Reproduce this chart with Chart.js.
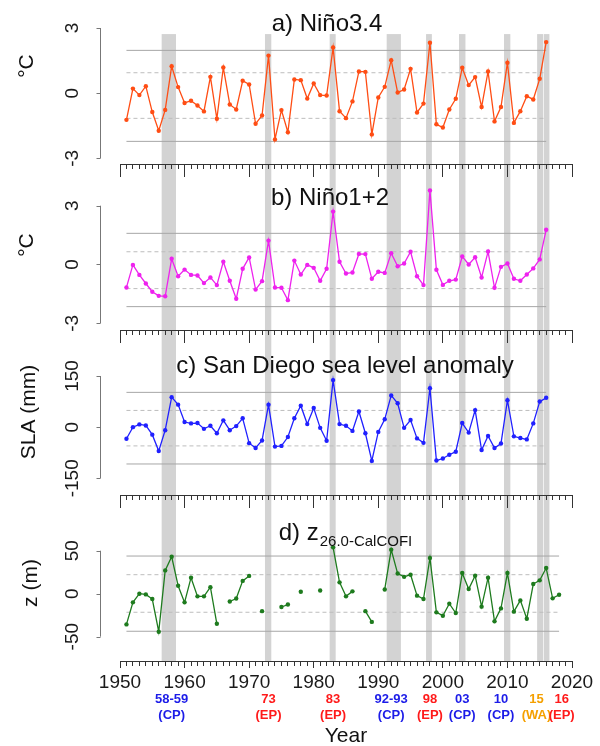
<!DOCTYPE html>
<html>
<head>
<meta charset="utf-8">
<script src="https://cdn.jsdelivr.net/npm/chart.js@4.4.1/dist/chart.umd.min.js"></script>
<style>
    html, body { margin: 0; padding: 0; background: #fff; }
    #wrap { width: 600px; height: 746px; }
</style>
</head>
<body>
<div id="wrap"><canvas id="grafico" width="600" height="746"></canvas></div>
<script>
// anos (o painel d vai ate 2018, os outros ate 2016)
const years = [1951, 1952, 1953, 1954, 1955, 1956, 1957, 1958, 1959, 1960,
    1961, 1962, 1963, 1964, 1965, 1966, 1967, 1968, 1969, 1970,
    1971, 1972, 1973, 1974, 1975, 1976, 1977, 1978, 1979, 1980,
    1981, 1982, 1983, 1984, 1985, 1986, 1987, 1988, 1989, 1990,
    1991, 1992, 1993, 1994, 1995, 1996, 1997, 1998, 1999, 2000,
    2001, 2002, 2003, 2004, 2005, 2006, 2007, 2008, 2009, 2010,
    2011, 2012, 2013, 2014, 2015, 2016, 2017, 2018];

const nino34 = [-1.23, 0.21, -0.09, 0.32, -0.87, -1.73, -0.77, 1.24, 0.28, -0.45,
    -0.35, -0.57, -0.84, 0.75, -1.18, 1.18, -0.52, -0.75, 0.57, 0.40,
    -1.41, -1.03, 1.73, -2.13, -0.78, -1.80, 0.63, 0.60, -0.25, 0.45,
    -0.09, -0.11, 2.10, -0.83, -1.15, -0.38, 1.00, 0.98, -1.90, -0.20,
    0.29, 1.52, 0.03, 0.17, 1.12, -0.89, -0.48, 2.32, -1.43, -1.58,
    -0.75, -0.26, 1.17, 0.37, 0.74, -0.64, 1.00, -1.30, -0.64, 1.40,
    -1.37, -0.83, -0.14, -0.29, 0.66, 2.35];

const nino12 = [-1.17, -0.02, -0.53, -0.97, -1.39, -1.60, -1.62, 0.29, -0.60, -0.26,
    -0.53, -0.56, -0.95, -0.66, -1.05, 0.14, -0.83, -1.75, -0.22, 0.36,
    -1.28, -0.85, 1.22, -1.17, -1.19, -1.82, 0.20, -0.51, -0.02, -0.17,
    -0.83, -0.22, 2.70, 0.14, -0.46, -0.41, 0.54, 0.53, -0.73, -0.37,
    -0.43, 0.58, -0.09, 0.05, 0.65, -0.60, -1.05, 3.78, -0.27, -1.04,
    -0.83, -0.77, 0.41, 0.00, 0.37, -0.66, 0.66, -1.19, -0.12, 0.05,
    -0.73, -0.83, -0.51, -0.20, 0.26, 1.77];

const slaSanDiego = [-34, 0, 8, 5, -22, -70, -9, 88, 66, 15,
    11, 12, -5, 4, -18, 20, -9, 3, 26, -47,
    -61, -39, 66, -57, -55, -29, 26, 63, 9, 56,
    -2, -40, 138, 9, 4, -11, 46, -18, -99, -14,
    23, 93, 70, -2, 21, -33, -46, 114, -98, -92,
    -81, -72, 12, -16, 50, -67, -26, -61, -48, 79,
    -27, -32, -36, 11, 75, 86];

const z26 = [-35.7, -10.1, 0, -0.8, -6.2, -44.2, 27.1, 43.0, 9.3, -10.1,
    18.6, -3.1, -3.1, 7.6, -35.0, null, -9.1, -5.6, 14.9, 20.7,
    null, -20.3, null, null, -15.5, -12.6, null, 2.3, null, null,
    3.7, null, 53.9, 13.2, -3.1, 2.7, null, -20.3, -32.8, null,
    4.9, 51.2, 23.4, 19.6, 22.1, -2.3, -6.2, 41.5, -21.7, -25.6,
    -11.6, -22.5, 24.0, 5.4, 20.9, -15.1, 18.6, -32.2, -17.1, 24.0,
    -20.9, -7.8, -29.1, 11.2, 15.5, 29.8, -5.4, -1.2];

// linhas de referencia (media +-1 e +-2 desvios)
const refNino34 = [1.97, 0.94, -1.16, -2.22];
const refNino12 = [1.59, 0.65, -1.23, -2.15];
const refSla = [102, 49, -55, -108];
const refZ = [43.8, 22.1, -21.6, -43.7];
const refTipo = ["solid", "dashed", "dashed", "solid"];

// ticks do eixo y
const ticksNino = [-3, 0, 3];
const ticksSla = [-150, 0, 150];
const ticksZ = [-50, 0, 50];

// eventos El Nino (faixas cinzas e rotulos)
const faixaInicio = [1956.45, 1972.45, 1982.47, 1991.3, 1997.4, 2002.5, 2009.47, 2014.6, 2015.62];
const faixaFim = [1958.67, 1973.43, 1983.4, 1993.5, 1998.3, 2003.5, 2010.45, 2015.52, 2016.5];
const eventoPos = [1958, 1973, 1983, 1992, 1998, 2003, 2009, 2014.5, 2018.4];
const eventoAno = ["58-59", "73", "83", "92-93", "98", "03", "10", "15", "16"];
const eventoTipo = ["CP", "EP", "EP", "CP", "EP", "CP", "CP", "WA", "EP"];

const titulos = ["a) Niño3.4", "b) Niño1+2", "c) San Diego sea level anomaly", "d) z"];
const subtituloD = "26.0-CalCOFI";
const rotulosY = ["°C", "°C", "SLA (mm)", "z (m)"];

const fonte = '"Liberation Sans", Arial, sans-serif';
Chart.defaults.font.family = fonte;
Chart.defaults.color = "#1a1a1a";

const corTipo = { CP: "#1c1ce8", EP: "#ff1a1a", WA: "#f5a000" };
const corEixo = "#333333";

const paineis = [
    { id: "ya", dados: nino34, ref: refNino34, ticks: ticksNino, cor: "#ff4d14", min: -3.276, max: 3.737, peso: 152.3 },
    { id: "yb", dados: nino12, ref: refNino12, ticks: ticksNino, cor: "#ee22ee", min: -3.342, max: 5.112, peso: 165.7 },
    { id: "yc", dados: slaSanDiego, ref: refSla, ticks: ticksSla, cor: "#2020ff", min: -199.0, max: 284.9, peso: 165 },
    { id: "yd", dados: z26, ref: refZ, ticks: ticksZ, cor: "#1e7b1e", min: -78.3, max: 114.8, peso: 166 }
];

const medidor = document.createElement("canvas").getContext("2d");
medidor.font = "19px " + fonte;

function larguraMax(valores) {
    return Math.max.apply(null, valores.map(function (v) {
        return medidor.measureText(String(v)).width;
    }));
}

function pontos(valores) {
    return valores.map(function (v, i) {
        return { x: years[i], y: v };
    });
}

const scales = {};
const datasets = [];

paineis.forEach(function (p, i) {
    scales[p.id] = {
        type: "linear",
        axis: "y",
        position: "left",
        stack: "paineis",
        stackWeight: p.peso,
        weight: 4 - i,
        min: p.min,
        max: p.max,
        afterBuildTicks: function (s) {
            s.ticks = p.ticks.map(function (v) { return { value: v }; });
        },
        afterFit: function (s) {
            s.width = 120;
            s.paddingTop = 0;
            s.paddingBottom = 0;
        },
        grid: { display: false, drawTicks: false },
        border: { display: false },
        ticks: {
            minRotation: 90,
            maxRotation: 90,
            crossAlign: "center",
            autoSkip: false,
            padding: 47 - larguraMax(p.ticks) / 2,
            font: { size: 19 },
            color: "#1a1a1a",
            callback: function (v) { return String(v); }
        }
    };

    const ultimoAno = years[p.dados.length - 1];
    p.ref.forEach(function (v, k) {
        datasets.push({
            data: [{ x: years[0], y: v }, { x: ultimoAno, y: v }],
            yAxisID: p.id,
            xAxisID: "x",
            borderColor: refTipo[k] === "solid" ? "#a6a6a6" : "#bdbdbd",
            borderDash: refTipo[k] === "solid" ? [] : [4, 3],
            borderWidth: 1,
            pointRadius: 0,
            order: 2
        });
    });

    datasets.push({
        label: titulos[i],
        data: pontos(p.dados),
        yAxisID: p.id,
        xAxisID: "x",
        borderColor: p.cor,
        backgroundColor: p.cor,
        pointBackgroundColor: p.cor,
        borderWidth: 1.3,
        pointRadius: 2.2,
        pointBorderWidth: 0,
        spanGaps: false,
        order: 1
    });

    // linha de ticks do eixo x abaixo de cada painel
    const ultimo = i === paineis.length - 1;
    const pos = {};
    pos[p.id] = p.min;
    scales["xm" + i] = {
        type: "linear",
        axis: "x",
        min: 1950,
        max: 2020,
        position: pos,
        ticks: { display: false, stepSize: 1 },
        grid: { drawOnChartArea: false, tickLength: 4, color: corEixo, tickColor: corEixo },
        border: { display: true, color: corEixo, width: 1 }
    };
    scales[ultimo ? "x" : "xM" + i] = {
        type: "linear",
        axis: "x",
        min: 1950,
        max: 2020,
        position: pos,
        ticks: {
            display: ultimo,
            stepSize: 10,
            autoSkip: false,
            maxRotation: 0,
            minRotation: 0,
            padding: 3,
            font: { size: 19 },
            color: "#1a1a1a",
            callback: function (v) { return String(v); }
        },
        grid: { drawOnChartArea: false, tickLength: ultimo ? 7 : 13, color: corEixo, tickColor: corEixo },
        border: { display: false },
        title: {
            display: ultimo,
            text: "Year",
            font: { size: 21 },
            color: "#111",
            padding: { top: 27, bottom: 4 }
        }
    };
});

scales.xev = {
    type: "linear",
    axis: "x",
    min: 1950,
    max: 2020,
    position: { yd: paineis[3].min },
    afterBuildTicks: function (s) {
        s.ticks = eventoPos.map(function (v) { return { value: v }; });
    },
    afterFit: function (s) {
        s.paddingLeft = 0;
        s.paddingRight = 0;
    },
    grid: { display: false, drawTicks: false },
    border: { display: false },
    ticks: {
        autoSkip: false,
        maxRotation: 0,
        minRotation: 0,
        padding: 29.5,
        font: { size: 13, weight: "bold", lineHeight: 1.3 },
        color: function (c) { return corTipo[eventoTipo[c.index]]; },
        callback: function (v, i) { return [eventoAno[i], "(" + eventoTipo[i] + ")"]; }
    }
};

const decoracao = {
    id: "decoracao",
    beforeDraw: function (chart) {
        const ctx = chart.ctx;
        const s = chart.scales;
        const topo = s.ya.getPixelForValue(2.72);
        const base = s.yd.getPixelForValue(s.yd.min);
        ctx.save();
        ctx.fillStyle = "#d3d3d3";
        faixaInicio.forEach(function (ini, i) {
            const x0 = s.x.getPixelForValue(ini);
            const x1 = s.x.getPixelForValue(faixaFim[i]);
            ctx.fillRect(x0, topo, x1 - x0, base - topo);
        });
        ctx.restore();
    },
    afterDraw: function (chart) {
        const ctx = chart.ctx;
        const s = chart.scales;
        const xl = chart.chartArea.left - 20 + 0.5;
        ctx.save();

        // eixos y no estilo do R
        ctx.strokeStyle = "#777";
        ctx.lineWidth = 1;
        paineis.forEach(function (p) {
            const esc = s[p.id];
            const p0 = esc.getPixelForValue(p.ticks[0]);
            const p1 = esc.getPixelForValue(p.ticks[p.ticks.length - 1]);
            ctx.beginPath();
            ctx.moveTo(xl, p0);
            ctx.lineTo(xl, p1);
            p.ticks.forEach(function (v) {
                const py = Math.round(esc.getPixelForValue(v)) + 0.5;
                ctx.moveTo(xl - 4, py);
                ctx.lineTo(xl, py);
            });
            ctx.stroke();
        });

        // titulos dos paineis
        ctx.fillStyle = "#111";
        ctx.textBaseline = "alphabetic";
        ctx.font = "24px " + fonte;
        ctx.textAlign = "center";
        ctx.fillText(titulos[0], 327, 31);
        ctx.fillText(titulos[1], 330, 205);
        ctx.fillText(titulos[2], 345, 372.5);

        ctx.textAlign = "left";
        const w1 = ctx.measureText(titulos[3]).width;
        ctx.font = "15px " + fonte;
        const w2 = ctx.measureText(subtituloD).width;
        const inicio = 345 - (w1 + w2) / 2;
        ctx.font = "24px " + fonte;
        ctx.fillText(titulos[3], inicio, 540);
        ctx.font = "15px " + fonte;
        ctx.fillText(subtituloD, inicio + w1 + 1, 546);

        // rotulos do eixo y
        const posY = [[27, 66], [27, 245], [29, 412], [31, 583]];
        ctx.font = "21px " + fonte;
        ctx.textAlign = "center";
        ctx.textBaseline = "middle";
        rotulosY.forEach(function (txt, i) {
            ctx.save();
            ctx.translate(posY[i][0], posY[i][1]);
            ctx.rotate(-Math.PI / 2);
            ctx.fillText(txt, 0, 0);
            ctx.restore();
        });

        ctx.restore();
    }
};

new Chart(document.getElementById("grafico"), {
    type: "line",
    data: { datasets: datasets },
    options: {
        responsive: false,
        animation: false,
        layout: { padding: { top: 12, right: 28, bottom: 85, left: 0 } },
        plugins: {
            legend: { display: false },
            tooltip: { enabled: false }
        },
        scales: scales
    },
    plugins: [decoracao]
});
</script>
</body>
</html>
